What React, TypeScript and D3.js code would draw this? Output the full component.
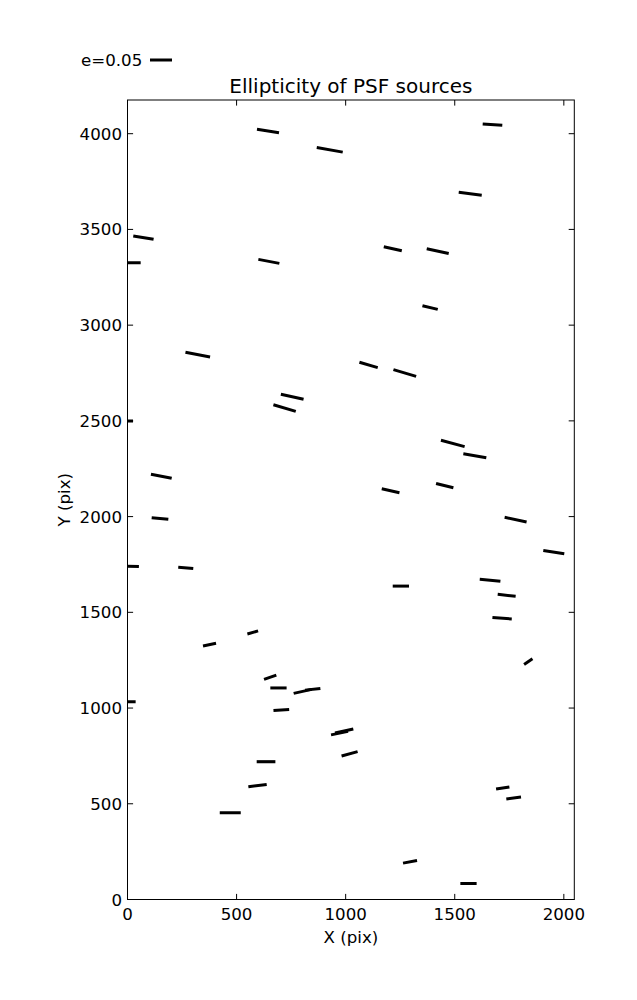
import React from "react";
import * as d3 from "d3";

// Source positions (pix), ellipticity and position angle (deg, CCW from +X)
const srcX = [644, 927, 73, 15, 648, 1673, 1571, 1216, 1422, 322, 755, 720, -25, 155, 1387, 1105, 1271, 1491, 1592, 1206, 1454, 149, 20, 267, 376, 574, 654, 692, 803, 849, 1779, 1954, 1253, 1662, 1738, 1717, 1837, 0, 705, 972, 993, 635, 1018, 596, 471, 1720, 1770, 1295, 1563];
const srcY = [4014, 3916, 3457, 3326, 3333, 4047, 3686, 3399, 3387, 2846, 2626, 2567, 2499, 2211, 3092, 2792, 2750, 2382, 2318, 2135, 2162, 1990, 1740, 1732, 1331, 1395, 1161, 1105, 1087, 1098, 1984, 1814, 1637, 1667, 1589, 1469, 1242, 1033, 990, 869, 880, 720, 761, 595, 453, 582, 530, 197, 83];
const srcE = [0.0506, 0.060, 0.0468, 0.045, 0.0486, 0.0446, 0.0527, 0.0419, 0.0511, 0.057, 0.0528, 0.053, 0.05, 0.048, 0.0358, 0.0433, 0.0538, 0.0557, 0.053, 0.0412, 0.0405, 0.038, 0.032, 0.0342, 0.0302, 0.0253, 0.0296, 0.037, 0.042, 0.035, 0.051, 0.0483, 0.037, 0.0472, 0.041, 0.044, 0.023, 0.037, 0.0357, 0.0395, 0.0426, 0.0425, 0.0377, 0.042, 0.0477, 0.0306, 0.0337, 0.0324, 0.037];
const srcAngle = [-8.8, -10.2, -9.2, 0, -10.8, -3.8, -7.4, -12.5, -12.1, -10.8, -12.4, -16.7, 0, -10.9, -13.5, -16.2, -16.4, -15, -9.9, -12.7, -13.9, -5.7, -2, -5, 11.7, 15.7, 19.3, 0, 12.5, 6.3, -12.1, -8.9, 0, -5.5, -6.3, -3.9, 34.5, 0, 3.5, 11.6, 12.3, 0, 15.1, 7.2, 0, 8.6, 7.8, 10.9, 0];

const xTicks = [0, 500, 1000, 1500, 2000];
const yTicks = [0, 500, 1000, 1500, 2000, 2500, 3000, 3500, 4000];
const keyE = 0.05;
const keyLabel = "e=0.05";
const title = "Ellipticity of PSF sources";
const xLabel = "X (pix)";
const yLabel = "Y (pix)";

export default function App() {
  const W = 637, H = 1000;
  const left = 127.5, right = 574.3, top = 100, bottom = 899.5;
  const x = d3.scaleLinear().domain([0, 2048]).range([left, right]);
  const y = d3.scaleLinear().domain([0, 4176]).range([bottom, top]);
  const lenScale = d3.scaleLinear().domain([0, 1]).range([0, 440]);
  const font = "DejaVu Sans";
  const tickLen = 5.6;

  const segs = srcX.map((sx, i) => {
    const cx = x(sx), cy = y(srcY[i]);
    const half = lenScale(srcE[i]) / 2;
    const a = (srcAngle[i] * Math.PI) / 180;
    const dx = Math.cos(a) * half, dy = -Math.sin(a) * half;
    return { x1: cx - dx, y1: cy - dy, x2: cx + dx, y2: cy + dy };
  });

  return (
    <svg width={W} height={H} style={{ position: "absolute", left: 0, top: 0, background: "#fff" }} fontFamily={font}>
      <rect x={0} y={0} width={W} height={H} fill="#fff" />
      <defs>
        <clipPath id="axclip">
          <rect x={left} y={top} width={right - left} height={bottom - top} />
        </clipPath>
      </defs>
      <g clipPath="url(#axclip)">
        {segs.map((s, i) => (
          <line key={i} x1={s.x1} y1={s.y1} x2={s.x2} y2={s.y2} stroke="#000" strokeWidth={3} strokeLinecap="butt" />
        ))}
      </g>
      <rect x={left} y={top} width={right - left} height={bottom - top} fill="none" stroke="#000" strokeWidth={1} />
      {xTicks.map((t) => (
        <g key={"x" + t}>
          <line x1={x(t)} x2={x(t)} y1={bottom} y2={bottom - tickLen} stroke="#000" />
          <line x1={x(t)} x2={x(t)} y1={top} y2={top + tickLen} stroke="#000" />
          <text x={x(t)} y={920} fontSize={16.67} textAnchor="middle">{t}</text>
        </g>
      ))}
      {yTicks.map((t) => (
        <g key={"y" + t}>
          <line x1={left} x2={left + tickLen} y1={y(t)} y2={y(t)} stroke="#000" />
          <line x1={right} x2={right - tickLen} y1={y(t)} y2={y(t)} stroke="#000" />
          <text x={122} y={y(t) + 6} fontSize={16.67} textAnchor="end">{t}</text>
        </g>
      ))}
      <text x={(left + right) / 2} y={943} fontSize={16.67} textAnchor="middle">{xLabel}</text>
      <text transform={`translate(70,${(top + bottom) / 2}) rotate(-90)`} fontSize={16.67} textAnchor="middle">{yLabel}</text>
      <text x={(left + right) / 2} y={93} fontSize={20} textAnchor="middle">{title}</text>
      <text x={81} y={66} fontSize={16.67}>{keyLabel}</text>
      <line x1={150} x2={150 + lenScale(keyE)} y1={60} y2={60} stroke="#000" strokeWidth={3} />
    </svg>
  );
}
